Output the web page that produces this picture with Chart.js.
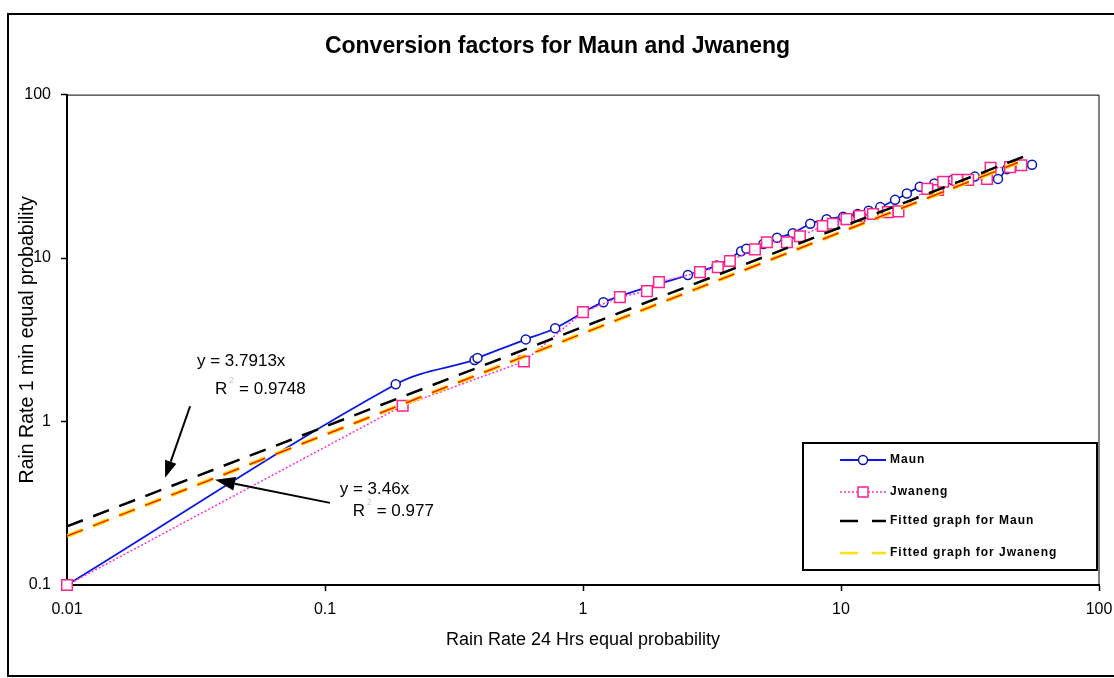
<!DOCTYPE html>
<html>
<head>
<meta charset="utf-8">
<title>Conversion factors for Maun and Jwaneng</title>
<script src="https://cdn.jsdelivr.net/npm/chart.js@4.4.0/dist/chart.umd.min.js"></script>
<style>
  html, body { margin: 0; padding: 0; background: #fff; }
  #wrap { position: relative; width: 1114px; height: 678px; }
</style>
</head>
<body>
<div id="wrap"><canvas id="rainChart"></canvas></div>
<script>
// ---- DATA ----------------------------------------------------
// Rain rate pairs (24 h rate vs 1 min rate at equal probability)
const maunX = [0.01, 0.188, 0.38, 0.39, 0.60, 0.78, 1.20, 2.55, 3.3, 4.1, 4.3, 5.0, 5.65, 6.5, 7.6, 8.8,
               10.2, 11.6, 12.8, 14.2, 16.2, 18.0, 20.2, 23.0, 27.0, 33.0, 40.6, 44.0, 55.0];
const maunY = [0.1, 1.69, 2.38, 2.45, 3.18, 3.72, 5.37, 7.87, 9.0, 11.0, 11.4, 12.2, 13.3, 14.2, 16.2, 17.3,
               17.9, 18.6, 19.5, 20.5, 22.7, 24.8, 27.3, 28.6, 30.0, 31.5, 30.5, 35.0, 37.2];

const jwanX = [0.01, 0.20, 0.59, 1.0, 1.39, 1.77, 1.97, 2.84, 3.33, 3.71, 4.64, 5.16, 6.17, 6.93, 8.5,
               9.3, 10.5, 11.8, 13.3, 15.2, 16.7, 21.6, 23.8, 24.9, 28.2, 31.1, 36.8, 38.0, 45.2, 50.0];
const jwanY = [0.1, 1.25, 2.33, 4.67, 5.77, 6.28, 7.13, 8.2, 8.8, 9.6, 11.3, 12.5, 12.5, 13.6, 15.7,
               16.2, 17.3, 18.1, 18.6, 19.1, 19.3, 26.5, 26.1, 29.3, 30.1, 30.1, 30.5, 35.6, 36.0, 37.0];

// power-law trendlines y = a * x^b
const fitCoef = [3.7913, 3.46];
const fitExp = [0.61, 0.62];
const fitFrom = [0.01, 0.01];
const fitTo = [54, 48.5];
const fitR2 = [0.9748, 0.977];

const xTicks = [0.01, 0.1, 1, 10, 100];
const yTicks = [0.1, 1, 10, 100];

const FONT = "'Liberation Sans', Arial, sans-serif";

const toPoints = (xs, ys) => xs.map((x, i) => ({ x, y: ys[i] }));
const fitLine = (i) => [fitFrom[i], fitTo[i]].map(x => ({ x, y: fitCoef[i] * Math.pow(x, fitExp[i]) }));

// ---- DECORATIONS: plot frame, legend box, trendline notes ----
const decorations = {
  id: "decorations",
  beforeDatasetsDraw(chart) {
    const { ctx, chartArea: ca } = chart;
    ctx.save();
    ctx.strokeStyle = "#000";
    ctx.lineWidth = 1;
    ctx.beginPath();
    ctx.moveTo(ca.left, ca.top + 0.5);
    ctx.lineTo(ca.right, ca.top + 0.5);
    ctx.lineTo(ca.right, ca.bottom);
    ctx.stroke();
    ctx.restore();
  },
  afterDraw(chart) {
    const { ctx, chartArea: ca, scales } = chart;
    const px = (x, y) => [scales.x.getPixelForValue(x), scales.y.getPixelForValue(y)];
    ctx.save();

    // outer frame (runs off the right edge)
    ctx.strokeStyle = "#000";
    ctx.lineWidth = 2;
    ctx.beginPath();
    ctx.moveTo(1114, 14);
    ctx.lineTo(8, 14);
    ctx.lineTo(8, 676);
    ctx.lineTo(1114, 676);
    ctx.stroke();

    // equation notes with arrows
    ctx.fillStyle = "#000";
    ctx.font = "17px " + FONT;
    ctx.textBaseline = "middle";
    ctx.textAlign = "left";
    const note = (x, y, text) => { const [a, b] = px(x, y); ctx.fillText(text, a, b); };
    const rNote = (x, y, r) => {
      const [a, b] = px(x, y);
      ctx.font = "17px " + FONT;
      ctx.fillText("R", a, b);
      ctx.fillStyle = "#c8c8d4";
      ctx.font = "9px " + FONT;
      ctx.fillText("2", a + 14, b - 9);
      ctx.fillStyle = "#000";
      ctx.font = "17px " + FONT;
      ctx.fillText("= " + r, a + 24, b);
    };
    note(0.0319, 2.33, "y = " + fitCoef[0] + "x");
    rNote(0.0375, 1.57, fitR2[0]);
    note(0.114, 0.383, "y = " + fitCoef[1] + "x");
    rNote(0.128, 0.281, fitR2[1]);

    const arrow = (from, to, len, half) => {
      const [x0, y0] = px(from[0], from[1]);
      const [x1, y1] = px(to[0], to[1]);
      const ang = Math.atan2(y1 - y0, x1 - x0);
      const bx = x1 - Math.cos(ang) * len, by = y1 - Math.sin(ang) * len;
      ctx.strokeStyle = "#000";
      ctx.lineWidth = 2;
      ctx.beginPath();
      ctx.moveTo(x0, y0);
      ctx.lineTo(bx, by);
      ctx.stroke();
      ctx.beginPath();
      ctx.moveTo(x1, y1);
      ctx.lineTo(bx + Math.sin(ang) * half, by - Math.cos(ang) * half);
      ctx.lineTo(bx - Math.sin(ang) * half, by + Math.cos(ang) * half);
      ctx.closePath();
      ctx.fillStyle = "#000";
      ctx.fill();
    };
    arrow([0.030, 1.24], [0.024, 0.453], 17, 6);
    arrow([0.1045, 0.318], [0.0375, 0.44], 20, 7);

    // legend box
    const bw = 294, bh = 127;
    const bx = ca.right - 2 - bw, by = ca.bottom - 15 - bh;
    ctx.fillStyle = "#fff";
    ctx.fillRect(bx, by, bw, bh);
    ctx.strokeStyle = "#000";
    ctx.lineWidth = 2;
    ctx.strokeRect(bx, by, bw, bh);

    const ds = chart.data.datasets;
    const rows = [
      { label: "Maun", d: ds[4], dy: 17 },
      { label: "Jwaneng", d: ds[3], dy: 49 },
      { label: "Fitted graph for Maun", d: ds[0], dy: 78 },
      { label: "Fitted graph for Jwaneng", d: ds[2], dy: 110 }
    ];
    const lx0 = bx + 37, lx1 = bx + 83, mx = bx + 60;
    rows.forEach(r => {
      const y = by + r.dy;
      ctx.save();
      ctx.beginPath();
      ctx.rect(lx0, y - 5, lx1 - lx0, 10);
      ctx.clip();
      ctx.strokeStyle = r.d.borderColor;
      ctx.lineWidth = Math.min(r.d.borderWidth, 2.5);
      ctx.setLineDash(r.d.borderDash && r.d.borderDash.length ? (r.d.pointRadius ? r.d.borderDash : [18, 14]) : []);
      ctx.beginPath();
      ctx.moveTo(lx0, y);
      ctx.lineTo(lx1 + 6, y);
      ctx.stroke();
      ctx.restore();
      if (r.d.pointRadius) {
        ctx.setLineDash([]);
        ctx.fillStyle = "#fff";
        ctx.strokeStyle = r.d.pointBorderColor;
        ctx.lineWidth = 1.5;
        ctx.beginPath();
        if (r.d.pointStyle === "rect") ctx.rect(mx - 5, y - 5, 10, 10);
        else ctx.arc(mx, y, 4.5, 0, Math.PI * 2);
        ctx.fill();
        ctx.stroke();
      }
      ctx.fillStyle = "#000";
      ctx.font = "bold 12px " + FONT;
      ctx.letterSpacing = "1px";
      ctx.textAlign = "left";
      ctx.textBaseline = "middle";
      ctx.fillText(r.label, bx + 87, y);
      ctx.letterSpacing = "0px";
    });
    ctx.restore();
  }
};

// ---- CHART ---------------------------------------------------
const dashes = [17, 11];
new Chart(document.getElementById("rainChart").getContext("2d"), {
  type: "line",
  data: {
    datasets: [
      { label: "Fitted graph for Maun", data: fitLine(0), borderColor: "#000", borderWidth: 2.5,
        borderDash: dashes, pointRadius: 0, order: 0 },
      { label: "Fitted graph for Jwaneng (core)", data: fitLine(1), borderColor: "#f02000", borderWidth: 1.5,
        borderDash: dashes, pointRadius: 0, order: 1 },
      { label: "Fitted graph for Jwaneng", data: fitLine(1), borderColor: "#ffe000", borderWidth: 4,
        borderDash: dashes, pointRadius: 0, order: 2 },
      { label: "Jwaneng", data: toPoints(jwanX, jwanY), borderColor: "#ff30d0", borderWidth: 1.5,
        borderDash: [2, 2], pointStyle: "rect", pointRadius: 7.5, pointBorderColor: "#ff2288",
        pointBackgroundColor: "#fff", pointBorderWidth: 1.5, clip: false, order: 3 },
      { label: "Maun", data: toPoints(maunX, maunY), borderColor: "#0a18e0", borderWidth: 1.8,
        tension: 0.35, pointStyle: "circle", pointRadius: 4.5, pointBorderColor: "#0a14b0",
        pointBackgroundColor: "#fff", pointBorderWidth: 1.5, clip: false, order: 4 }
    ]
  },
  options: {
    responsive: true,
    maintainAspectRatio: false,
    animation: false,
    layout: { padding: { left: 16, right: 15, top: 0, bottom: 0 } },
    plugins: {
      legend: { display: false },
      tooltip: { enabled: false },
      title: {
        display: true,
        text: "Conversion factors for Maun and Jwaneng",
        color: "#000",
        font: { family: FONT, size: 23, weight: "bold" },
        padding: { top: 33, bottom: 34 }
      }
    },
    scales: {
      x: {
        type: "logarithmic",
        min: 0.01,
        max: 100,
        afterBuildTicks: s => { s.ticks = xTicks.map(v => ({ value: v })); },
        afterFit: s => { s.height = 93; s.paddingLeft = 0; s.paddingRight = 0; },
        ticks: { callback: v => String(v), color: "#000", font: { family: FONT, size: 16 },
                 padding: 9, autoSkip: false, maxRotation: 0 },
        grid: { drawOnChartArea: false, drawTicks: true, tickLength: 6, tickColor: "#000", tickWidth: 1.5 },
        border: { color: "#000", width: 2 },
        title: { display: true, text: "Rain Rate 24 Hrs equal probability", color: "#000",
                 font: { family: FONT, size: 18 }, padding: { top: 0, bottom: 27 } }
      },
      y: {
        type: "logarithmic",
        min: 0.1,
        max: 100,
        afterBuildTicks: s => { s.ticks = yTicks.map(v => ({ value: v })); },
        afterFit: s => { s.width = 51; s.paddingTop = 0; s.paddingBottom = 0; },
        ticks: { callback: v => String(v), color: "#000", font: { family: FONT, size: 16 },
                 padding: 10, autoSkip: false },
        grid: { drawOnChartArea: false, drawTicks: true, tickLength: 6, tickColor: "#000", tickWidth: 1.5 },
        border: { color: "#000", width: 2 },
        title: { display: true, text: "Rain Rate 1 min equal probability", color: "#000",
                 font: { family: FONT, size: 19.5 }, padding: { top: 0, bottom: 0 } }
      }
    }
  },
  plugins: [decorations]
});
</script>
</body>
</html>
